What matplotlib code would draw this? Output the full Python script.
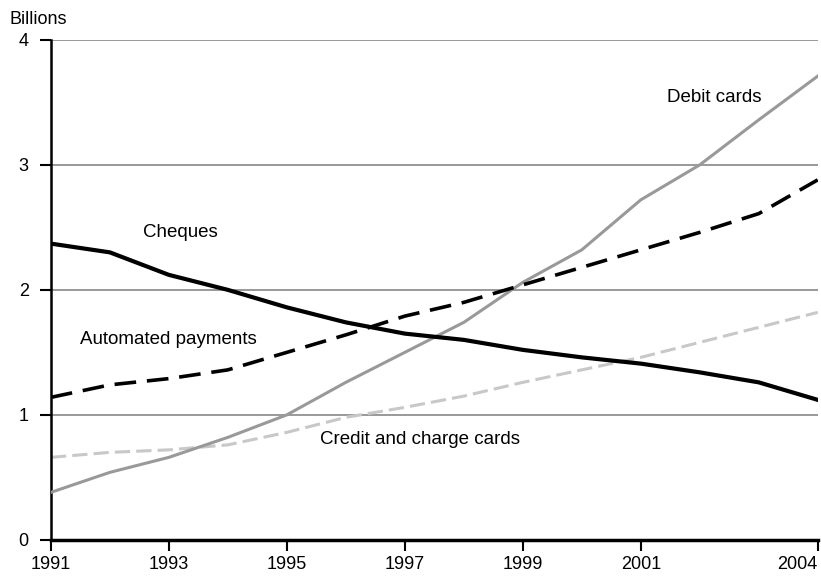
import matplotlib.pyplot as plt

plt.rcParams['font.family'] = ['Liberation Sans', 'DejaVu Sans']

# ==========================================
# Data (billions)
# ==========================================

years = [1991, 1992, 1993, 1994, 1995, 1996, 1997, 1998, 1999, 2000, 2001, 2002, 2003, 2004]

cheques = [2.37, 2.30, 2.12, 2.00, 1.86, 1.74, 1.65, 1.60, 1.52, 1.46, 1.41, 1.34, 1.26, 1.12]
automated = [1.14, 1.24, 1.29, 1.36, 1.50, 1.64, 1.79, 1.90, 2.04, 2.18, 2.32, 2.46, 2.61, 2.88]
debit = [0.38, 0.54, 0.66, 0.82, 1.00, 1.26, 1.50, 1.74, 2.06, 2.32, 2.72, 3.00, 3.36, 3.71]
credit = [0.66, 0.70, 0.72, 0.76, 0.86, 0.98, 1.06, 1.15, 1.26, 1.36, 1.46, 1.58, 1.70, 1.82]

xticks = [1991, 1993, 1995, 1997, 1999, 2001, 2004]
yticks = [0, 1, 2, 3, 4]

# ==========================================
# Plot
# ==========================================

fig = plt.figure(figsize=(8.21, 5.78), dpi=100)
ax = fig.add_axes([0.062, 0.066, 0.934, 0.865])

for y in yticks[1:]:
    ax.axhline(y, color="#888888", lw=1.2, zorder=1)

ax.plot(years, credit, color="#c8c8c8", lw=2.2, dashes=(5, 2), zorder=2)
ax.plot(years, debit, color="#999999", lw=2.2, zorder=3)
ax.plot(years, automated, color="black", lw=2.6, dashes=(6, 3), zorder=4)
ax.plot(years, cheques, color="black", lw=3, zorder=5)

ax.text(1993.2, 2.46, "Cheques", ha="center", va="center", fontsize=13.5)
ax.text(1993.0, 1.6, "Automated payments", ha="center", va="center", fontsize=13.5)
ax.text(1997.25, 0.8, "Credit and charge cards", ha="center", va="center", fontsize=13.5)
ax.text(2002.25, 3.54, "Debit cards", ha="center", va="center", fontsize=13.5)

ax.set_xlim(1991, 2004)
ax.set_ylim(0, 4)
ax.set_xticks(xticks)
ax.set_yticks(yticks)
ax.tick_params(axis="both", direction="out", length=8, width=1.5, labelsize=13)
ax.tick_params(axis="y", pad=8)
ax.get_xticklabels()[-1].set_horizontalalignment("right")

for s in ["top", "right"]:
    ax.spines[s].set_visible(False)
ax.spines["left"].set_linewidth(1.8)
ax.spines["bottom"].set_linewidth(2.5)

fig.text(0.012, 0.966, "Billions", ha="left", va="center", fontsize=13)

plt.savefig("out.png", dpi=100)
